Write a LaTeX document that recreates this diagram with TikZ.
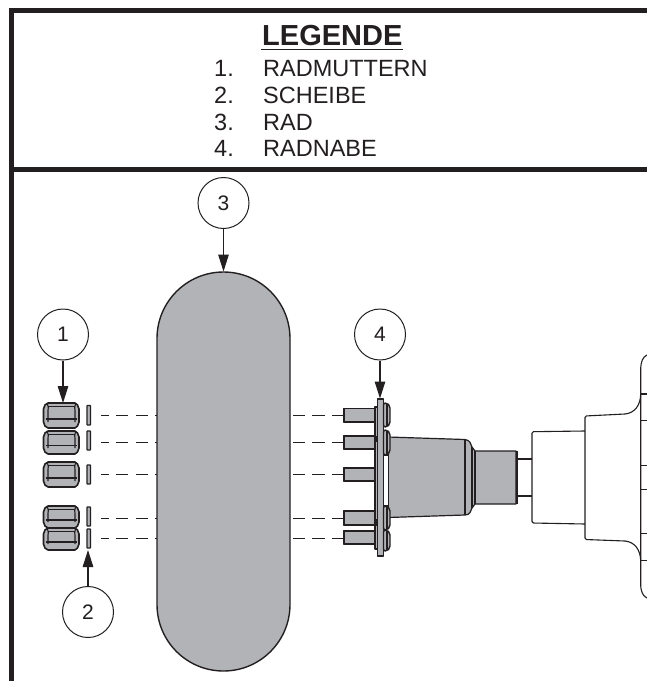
\documentclass[tikz,border=0pt]{standalone}
\usepackage{fontspec}
\setmainfont{Liberation Sans}
\usetikzlibrary{arrows.meta}
\definecolor{ink}{HTML}{231F20}
\definecolor{steel}{HTML}{B1B3B6}
\tikzset{
  frameline/.style={ink,line width=5pt},
  part/.style={draw=ink,fill=steel,line width=1.2pt,line join=round},
  thin part/.style={draw=ink,line width=1.1pt,line join=round},
  heavy/.style={draw=ink,line width=2pt},
  callout/.style={circle,draw=ink,line width=1pt,minimum size=51pt,inner sep=0pt,font=\fontsize{21}{21}\selectfont,text=ink},
  pointer/.style={draw=ink,line width=1.1pt,-{Triangle[length=17pt,width=10.5pt]}},
  dashleft/.style={draw=ink,line width=.9pt,dash pattern=on 8pt off 7pt on 12pt off 8pt on 12pt off 7pt on 2pt off 9pt},
  dashright/.style={draw=ink,line width=.9pt,dash pattern=on 12pt off 7pt on 13pt off 7pt on 11pt off 9pt},
  legitem/.style={anchor=base west,inner sep=0pt,text=ink,font=\fontsize{23.5}{24}\selectfont},
}
\newcommand{\lugnut}[2]{%
  \draw[part,line width=1.6pt] (48,#1) -- (75,#1) -- (77.5,{#1+2}) -- (79,{#1+6}) -- (79,{#2-6}) -- (77.5,{#2-2}) -- (75,#2) -- (48,#2) -- (45,{#2-2}) -- (43.5,{#2-6}) -- (43.5,{#1+6}) -- (45,{#1+2}) -- cycle;
  \draw[thin part] (47.5,{#1+1}) .. controls (48.5,{#1+5}) .. (48,{#1+7}) -- (48,{#2-6}) (75.5,{#1+1}) .. controls (74.5,{#1+5}) .. (75,{#1+7}) -- (75,{#2-6});
  \draw[thin part] (48,{#1+3.5}) -- (75,{#1+3.5});
  \draw[draw=ink,line width=1.5pt] (46,{#1+(#2-#1)*0.63}) -- (77,{#1+(#2-#1)*0.63});
}
\newcommand{\washer}[2]{\draw[part,line width=1.4pt,rounded corners=.5pt] (87,#1) rectangle (90.5,#2);}
\newcommand{\stud}[2]{\draw[part] (375,#1) -- (343.5,#1) -- (343.5,#2) -- (375,#2);\draw[heavy] (343.5,#1) -- (343.5,#2);}
\newcommand{\lughead}[2]{\draw[part,line width=1.4pt,rounded corners=2pt] (383.5,#1) -- (387,#1) -- (390,{#1+3}) -- (390,{#2-3}) -- (387,#2) -- (383.5,#2) -- cycle;\draw[thin part] (387,{#1+1}) -- (387,{#2-1});}
\begin{document}
\begin{tikzpicture}[x=1pt,y=-1pt]
\useasboundingbox (0,0) rectangle (647,681);
\fill[white] (0,0) rectangle (647,681);
% frame
\draw[frameline] (647,10) -- (11.5,10) -- (11.5,681);
\draw[frameline] (11.5,169.5) -- (647,169.5);
% legend
\node[legitem,font=\fontsize{29}{29}\selectfont\bfseries] (legtitle) at (262,45.5) {LEGENDE};
\draw[ink,line width=1.4pt] (261,49.5) -- (403,49.5);
\node[legitem] (n1) at (214,76.5) {1.};
\node[legitem] (t1) at (263,76.5) {RADMUTTERN};
\node[legitem] (n2) at (214,103) {2.};
\node[legitem] (t2) at (263,103) {SCHEIBE};
\node[legitem] (n3) at (214,130) {3.};
\node[legitem] (t3) at (263,130) {RAD};
\node[legitem] (n4) at (214,156.5) {4.};
\node[legitem] (t4) at (263,156.5) {RADNABE};
% wheel
\draw[part,line width=1.4pt] (157,338.5) arc[start angle=180,end angle=360,radius=66.5] -- (290,604.5) arc[start angle=0,end angle=180,radius=66.5] -- cycle;
% lug nuts
\lugnut{403}{428}
\lugnut{431}{454}
\lugnut{462}{487}
\lugnut{506}{528}
\lugnut{528}{550}
% washers
\washer{405.5}{425}
\washer{431}{450}
\washer{465}{484}
\washer{507}{526}
\washer{529}{548}
% dashed lines
\foreach \y in {415,442,474,518,538}{
  \draw[dashleft] (101,\y) -- (157,\y);
  \draw[dashright] (293,\y) -- (343,\y);
}
% hub body
\draw[part] (388,437) -- (465,439.5) .. controls (470,440) and (471,444) .. (472,447) .. controls (473,449) .. (475,451) -- (516,451) -- (516,504) -- (475,504) .. controls (473,506) .. (472,508) .. controls (471,511) and (470,515) .. (465,515) -- (388,517.5) -- cycle;
\draw[thin part] (465,439.5) -- (465,515) (472,447) -- (472,508) (475,451) -- (475,504);
\draw[heavy] (516.5,451) -- (516.5,504);
% studs
\stud{408.5}{422}
\stud{436}{449}
\stud{468}{481}
\stud{511}{525}
\stud{531}{544}
% flange
\draw[part] (375,407) rectangle (377.5,549);
\draw[part] (377.5,399) rectangle (383.5,556);
\draw[thin part,fill=white] (383.5,455) rectangle (388.5,506);
\fill[ink] (375,436) rectangle (378,442);
\fill[ink] (375,519) rectangle (378,526);
\lughead{403}{427}
\lughead{430}{455}
\lughead{506}{530}
\lughead{530}{551}
% spindle and housing
\draw[thin part] (517,459) -- (532,459) (517,496) -- (532,496);
\draw[thin part,rounded corners=1.5pt] (585,431) -- (532,431.7) -- (532,523) -- (585,524);
\draw[thin part,rounded corners=1.5pt] (625,414) -- (585,416) -- (585,539.5) -- (625,541);
\draw[thin part] (625,414) .. controls (635,413) and (640.5,405) .. (640.7,394);
\draw[thin part] (625,541) .. controls (635,542) and (640.5,550) .. (640.7,561);
\draw[thin part] (647,355) .. controls (643,357) and (640.7,361) .. (640.7,370) -- (640.7,584) .. controls (640.7,592) and (643,596) .. (647,598);
\foreach \y in {394,420.7,465.7,489.7,533.7,560.7}{
  \draw[thin part] (640.7,\y) -- (647,\y);
}
% callouts
\node[callout] (c3) at (223.5,203) {3};
\node[callout] (c1) at (63,334.5) {1};
\node[callout] (c4) at (380,334.5) {4};
\node[callout] (c2) at (88,612) {2};
\coordinate (p3) at (223.5,271.5);
\coordinate (p1) at (63,403);
\coordinate (p4) at (380,398.5);
\coordinate (p2) at (88,550);
\draw[pointer] (c3) -- (p3);
\draw[pointer] (c1) -- (p1);
\draw[pointer] (c4) -- (p4);
\draw[pointer] (c2) -- (p2);
\end{tikzpicture}
\end{document}
